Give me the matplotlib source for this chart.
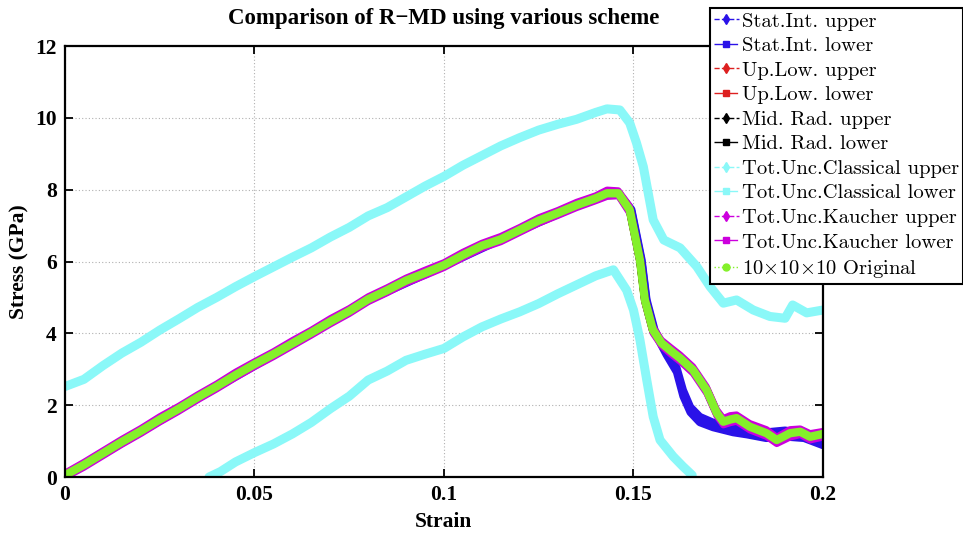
import matplotlib
matplotlib.use("Agg")
import matplotlib.pyplot as plt
from matplotlib.lines import Line2D

# ------------------------
# Data (strain, stress in GPa)
# ------------------------
strain_mid = [0, 0.005, 0.01, 0.015, 0.02, 0.025, 0.03, 0.035, 0.04, 0.045,
              0.05, 0.055, 0.06, 0.065, 0.07, 0.075, 0.08, 0.085, 0.09, 0.095,
              0.1, 0.105, 0.11, 0.115, 0.12, 0.125, 0.13, 0.135, 0.14, 0.143,
              0.146, 0.149, 0.1517, 0.153, 0.1551, 0.1574, 0.16, 0.1623, 0.1657, 0.1693,
              0.172, 0.1737, 0.1755, 0.1772, 0.1807, 0.1851, 0.1878, 0.1913, 0.194, 0.1966,
              0.2]

orig = [0.05, 0.34, 0.66, 0.98, 1.28, 1.6, 1.9, 2.22, 2.52, 2.84,
        3.14, 3.42, 3.72, 4.02, 4.33, 4.62, 4.95, 5.2, 5.47, 5.68,
        5.9, 6.18, 6.44, 6.62, 6.88, 7.14, 7.35, 7.57, 7.76, 7.9,
        7.9, 7.44, 6.04, 4.93, 4.1, 3.73, 3.5, 3.31, 2.98, 2.42,
        1.78, 1.54, 1.6, 1.64, 1.4, 1.22, 1.03, 1.22, 1.26, 1.12,
        1.2]

kauch_up = [0.12, 0.42, 0.74, 1.06, 1.36, 1.69, 1.98, 2.3, 2.6, 2.93,
            3.22, 3.5, 3.81, 4.1, 4.42, 4.7, 5.03, 5.28, 5.55, 5.77,
            5.98, 6.27, 6.52, 6.71, 6.96, 7.23, 7.43, 7.66, 7.84, 8.0,
            7.98, 7.55, 6.15, 5.02, 4.2, 3.82, 3.6, 3.41, 3.08, 2.52,
            1.88, 1.64, 1.72, 1.74, 1.5, 1.33, 1.12, 1.33, 1.35, 1.22,
            1.28]
kauch_lo = [-0.02, 0.26, 0.58, 0.9, 1.2, 1.52, 1.82, 2.14, 2.44, 2.76,
            3.06, 3.34, 3.64, 3.94, 4.25, 4.54, 4.87, 5.12, 5.39, 5.6,
            5.82, 6.1, 6.36, 6.54, 6.8, 7.06, 7.27, 7.49, 7.68, 7.8,
            7.82, 7.33, 5.93, 4.84, 4.0, 3.64, 3.4, 3.21, 2.88, 2.32,
            1.68, 1.44, 1.5, 1.54, 1.3, 1.12, 0.92, 1.1, 1.17, 1.02,
            1.1]

uplow_up = [0.08, 0.37, 0.69, 1.01, 1.31, 1.63, 1.93, 2.25, 2.55, 2.87,
            3.17, 3.45, 3.75, 4.05, 4.36, 4.65, 4.98, 5.23, 5.5, 5.71,
            5.93, 6.21, 6.47, 6.65, 6.91, 7.17, 7.38, 7.6, 7.79, 7.93,
            7.93, 7.47, 6.07, 4.96, 4.13, 3.76, 3.53, 3.34, 3.01, 2.45,
            1.81, 1.57, 1.63, 1.67, 1.43, 1.25, 1.06, 1.25, 1.29, 1.15,
            1.23]
uplow_lo = [0.02, 0.31, 0.63, 0.95, 1.25, 1.57, 1.87, 2.19, 2.49, 2.81,
            3.11, 3.39, 3.69, 3.99, 4.3, 4.59, 4.92, 5.17, 5.44, 5.65,
            5.87, 6.15, 6.41, 6.59, 6.85, 7.11, 7.32, 7.54, 7.73, 7.87,
            7.87, 7.41, 6.01, 4.9, 4.07, 3.7, 3.47, 3.28, 2.95, 2.39,
            1.75, 1.51, 1.57, 1.61, 1.37, 1.19, 1.0, 1.19, 1.23, 1.09,
            1.17]
midrad_up = [0.07, 0.36, 0.68, 1.0, 1.3, 1.62, 1.92, 2.24, 2.54, 2.86,
             3.16, 3.44, 3.74, 4.04, 4.35, 4.64, 4.97, 5.22, 5.49, 5.7,
             5.92, 6.2, 6.46, 6.64, 6.9, 7.16, 7.37, 7.59, 7.78, 7.92,
             7.92, 7.46, 6.06, 4.95, 4.12, 3.75, 3.52, 3.33, 3.0, 2.44,
             1.8, 1.56, 1.62, 1.66, 1.42, 1.24, 1.05, 1.24, 1.28, 1.14,
             1.22]
midrad_lo = [0.03, 0.32, 0.64, 0.96, 1.26, 1.58, 1.88, 2.2, 2.5, 2.82,
             3.12, 3.4, 3.7, 4.0, 4.31, 4.6, 4.93, 5.18, 5.45, 5.66,
             5.88, 6.16, 6.42, 6.6, 6.86, 7.12, 7.33, 7.55, 7.74, 7.88,
             7.88, 7.42, 6.02, 4.91, 4.08, 3.71, 3.48, 3.29, 2.96, 2.4,
             1.76, 1.52, 1.58, 1.62, 1.38, 1.2, 1.01, 1.2, 1.24, 1.1,
             1.18]

strain_stat = [0, 0.02, 0.04, 0.06, 0.08, 0.1, 0.12, 0.135, 0.143, 0.146,
               0.1495, 0.1522, 0.1535, 0.1556, 0.1574, 0.1587, 0.1614, 0.1631, 0.165, 0.1675,
               0.171, 0.1763, 0.18, 0.185, 0.19, 0.195, 0.2]
stat_up = [0.04, 1.29, 2.53, 3.73, 4.96, 5.91, 6.89, 7.58, 7.92, 7.92,
           7.45, 6.05, 4.94, 4.1, 3.72, 3.5, 3.05, 2.42, 1.95, 1.68,
           1.52, 1.38, 1.32, 1.25, 1.3, 1.22, 1.05]
stat_lo = [0.02, 1.25, 2.49, 3.69, 4.92, 5.87, 6.85, 7.54, 7.86, 7.86,
           7.4, 5.98, 4.87, 4.04, 3.66, 3.4, 2.92, 2.25, 1.8, 1.52,
           1.38, 1.24, 1.18, 1.08, 1.12, 1.08, 0.88]

strain_cl_up = [0, 0.005, 0.01, 0.015, 0.02, 0.025, 0.03, 0.035, 0.04, 0.045,
                0.05, 0.055, 0.06, 0.065, 0.07, 0.075, 0.08, 0.085, 0.09, 0.095,
                0.1, 0.105, 0.11, 0.115, 0.12, 0.125, 0.13, 0.135, 0.14, 0.143,
                0.1464, 0.149, 0.1508, 0.1526, 0.1539, 0.1552, 0.158, 0.1623, 0.1667, 0.1702,
                0.1737, 0.1772, 0.1816, 0.186, 0.19, 0.192, 0.1957, 0.2]
class_up = [2.52, 2.72, 3.1, 3.45, 3.75, 4.09, 4.4, 4.72, 5.0, 5.3,
            5.58, 5.85, 6.12, 6.38, 6.68, 6.95, 7.27, 7.5, 7.8, 8.1,
            8.37, 8.68, 8.95, 9.22, 9.45, 9.66, 9.82, 9.96, 10.15, 10.25,
            10.22, 9.86, 9.3, 8.64, 7.9, 7.16, 6.6, 6.38, 5.86, 5.3,
            4.84, 4.93, 4.65, 4.47, 4.42, 4.79, 4.57, 4.65]

strain_cl_lo = [0.038, 0.041, 0.045, 0.05, 0.055, 0.06, 0.065, 0.07, 0.075, 0.08,
                0.085, 0.09, 0.095, 0.1, 0.105, 0.11, 0.115, 0.12, 0.125, 0.13,
                0.135, 0.14, 0.1447, 0.1482, 0.15, 0.1517, 0.1535, 0.1552, 0.157, 0.1605,
                0.163, 0.1655]
class_lo = [0.0, 0.15, 0.42, 0.68, 0.92, 1.2, 1.52, 1.9, 2.25, 2.7,
            2.95, 3.25, 3.42, 3.58, 3.9, 4.18, 4.4, 4.6, 4.83, 5.1,
            5.35, 5.6, 5.77, 5.2, 4.65, 3.82, 2.7, 1.68, 1.03, 0.57,
            0.3, 0.05]

labels = ["Stat.Int. upper", "Stat.Int. lower", "Up.Low. upper", "Up.Low. lower",
          "Mid. Rad. upper", "Mid. Rad. lower", "Tot.Unc.Classical upper",
          "Tot.Unc.Classical lower", "Tot.Unc.Kaucher upper", "Tot.Unc.Kaucher lower",
          r"10$\times$10$\times$10 Original"]

c_blue = "#2a12e8"
c_red = "#dd2020"
c_black = "#000000"
c_cyan = "#8af8f8"
c_mag = "#cc00dd"
c_green = "#84f02a"

# ------------------------
# Plot
# ------------------------
plt.rcParams['mathtext.fontset'] = 'cm'
serif_bold = dict(family='Liberation Serif', weight='bold')

fig = plt.figure(figsize=(9.63, 5.37), dpi=100)
ax = fig.add_axes([0.0675, 0.1117, 0.7871, 0.8026])

rj = dict(solid_joinstyle='round', solid_capstyle='round')
ax.plot(strain_cl_up, class_up, color=c_cyan, lw=6.5, **rj)
ax.plot(strain_cl_lo, class_lo, color=c_cyan, lw=6.5, **rj)
ax.plot(strain_stat, stat_up, color=c_blue, lw=5.5, **rj)
ax.plot(strain_stat, stat_lo, color=c_blue, lw=5.5, **rj)
ax.plot(strain_mid, uplow_up, color=c_red, lw=5.5, **rj)
ax.plot(strain_mid, uplow_lo, color=c_red, lw=5.5, **rj)
ax.plot(strain_mid, midrad_up, color=c_black, lw=5.5, **rj)
ax.plot(strain_mid, midrad_lo, color=c_black, lw=5.5, **rj)
ax.plot(strain_mid, kauch_up, color=c_mag, lw=4.5, **rj)
ax.plot(strain_mid, kauch_lo, color=c_mag, lw=4.5, **rj)
ax.plot(strain_mid, orig, color=c_green, lw=6, **rj)

ax.set_xlim(0, 0.2)
ax.set_ylim(0, 12)
ax.set_xticks([0, 0.05, 0.1, 0.15, 0.2])
ax.set_xticklabels(["0", "0.05", "0.1", "0.15", "0.2"])
ax.set_yticks([0, 2, 4, 6, 8, 10, 12])
ax.grid(True, linestyle=(0, (1, 2)), color='#b0b0b0', lw=0.8)
ax.tick_params(direction='in', top=True, right=True, length=6, width=1.3, pad=6)
for t in ax.get_xticklabels() + ax.get_yticklabels():
    t.set_fontproperties(dict(serif_bold, size=15.5))
for s in ax.spines.values():
    s.set_linewidth(1.6)

ax.set_xlabel("Strain", fontsize=15.5, labelpad=5, **serif_bold)
ax.set_ylabel("Stress (GPa)", fontsize=15.5, labelpad=4, **serif_bold)
ax.set_title("Comparison of R\u2212MD using various scheme", fontsize=16.5, pad=16, **serif_bold)

# legend proxies
styles = [(c_blue, '--', 'd'), (c_blue, '-.', 's'),
          (c_red, '--', 'd'), (c_red, '-.', 's'),
          (c_black, '--', 'd'), (c_black, '-.', 's'),
          (c_cyan, '--', 'd'), (c_cyan, '-.', 's'),
          (c_mag, '--', 'd'), (c_mag, '-.', 's'),
          (c_green, ':', 'o')]
handles = [Line2D([], [], color=c, ls=ls, marker=m, ms=5, lw=1) for c, ls, m in styles]
leg = fig.legend(handles, labels, loc='upper left', bbox_to_anchor=(0.7373, 0.985),
                 borderaxespad=0, prop={'family': 'cmr10', 'size': 14.8},
                 handlelength=1.2, handletextpad=0.15, labelspacing=0.3,
                 borderpad=0.2, fancybox=False, framealpha=1)
leg.get_frame().set_edgecolor('black')
leg.get_frame().set_linewidth(1.5)

fig.savefig("out.png", dpi=100)
